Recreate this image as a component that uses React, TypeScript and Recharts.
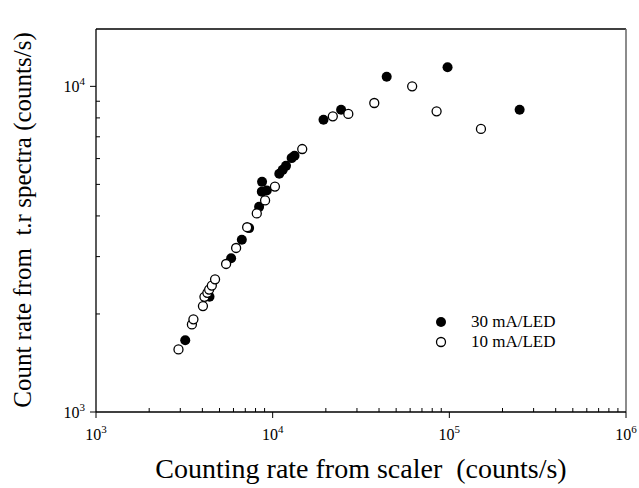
import { ReferenceLine, Scatter, ScatterChart, XAxis, YAxis } from 'recharts';

// 30 mA/LED (filled)
const scaler30 = [3200, 4390, 5820, 6690, 7360, 8380, 8710, 8680, 9260, 10900, 11400, 11900, 12800, 13300, 19400, 24400, 44200, 97700, 250000];
const spectra30 = [1660, 2260, 2965, 3380, 3670, 4265, 5090, 4750, 4790, 5390, 5540, 5700, 6020, 6120, 7900, 8480, 10700, 11440, 8480];

// 10 mA/LED (open)
const scaler10 = [2930, 3490, 3560, 4030, 4110, 4270, 4370, 4525, 4720, 5450, 6210, 7170, 8130, 9060, 10300, 14700, 21900, 26800, 37600, 61600, 84700, 151000];
const spectra10 = [1556, 1858, 1925, 2115, 2258, 2323, 2377, 2445, 2555, 2848, 3189, 3693, 4072, 4465, 4923, 6420, 8090, 8230, 8890, 10000, 8380, 7400];

const xTicks = [1e3, 2e3, 3e3, 4e3, 5e3, 6e3, 7e3, 8e3, 9e3, 1e4, 2e4, 3e4, 4e4, 5e4, 6e4, 7e4, 8e4, 9e4, 1e5, 2e5, 3e5, 4e5, 5e5, 6e5, 7e5, 8e5, 9e5, 1e6];
const yTicks = [1e3, 2e3, 3e3, 4e3, 5e3, 6e3, 7e3, 8e3, 9e3, 1e4];

const font = '"Liberation Serif", "Times New Roman", serif';

const data30 = scaler30.map((x, i) => ({ x, y: spectra30[i] }));
const data10 = scaler10.map((x, i) => ({ x, y: spectra10[i] }));

function exponentOf(v: number) {
  const e = Math.round(Math.log10(v));
  return Math.abs(Math.log10(v) - e) < 1e-6 ? e : null;
}

const XTick = ({ x, y, payload }: any) => {
  const e = exponentOf(payload.value);
  if (e === null) return <line x1={x} x2={x} y1={y} y2={y - 4} stroke="#000" />;
  return (
    <g>
      <line x1={x} x2={x} y1={y} y2={y + 6} stroke="#000" />
      <text x={x} y={y + 28} textAnchor="middle" fontSize={16} fontFamily={font} fill="#000">
        10<tspan dy={-7} fontSize={11}>{e}</tspan>
      </text>
    </g>
  );
};

const YTick = ({ x, y, payload }: any) => {
  const e = exponentOf(payload.value);
  if (e === null) return <line x1={x} x2={x + 4} y1={y} y2={y} stroke="#000" />;
  return (
    <g>
      <line x1={x - 6} x2={x} y1={y} y2={y} stroke="#000" />
      <text x={x - 11} y={y + 6} textAnchor="end" fontSize={16} fontFamily={font} fill="#000">
        10<tspan dy={-7} fontSize={11}>{e}</tspan>
      </text>
    </g>
  );
};

const FilledDot = ({ cx, cy }: any) => <circle cx={cx} cy={cy} r={5} fill="#000" />;
const OpenDot = ({ cx, cy }: any) => <circle cx={cx} cy={cy} r={4.5} fill="#fff" stroke="#000" strokeWidth={1.3} />;

const legendItems = [
  { label: '30 mA/LED', filled: true },
  { label: '10 mA/LED', filled: false },
];

const LegendBox = () => (
  <div style={{ position: 'absolute', left: 434, top: 312, fontFamily: font, fontSize: 17, color: '#000' }}>
    {legendItems.map((item) => (
      <div key={item.label} style={{ display: 'flex', alignItems: 'center', height: 20 }}>
        <svg width={14} height={14}>
          {item.filled ? (
            <circle cx={7} cy={7} r={5} fill="#000" />
          ) : (
            <circle cx={7} cy={7} r={4.5} fill="#fff" stroke="#000" strokeWidth={1.3} />
          )}
        </svg>
        <span style={{ marginLeft: 23 }}>{item.label}</span>
      </div>
    ))}
  </div>
);

export default function App() {
  return (
    <div style={{ position: 'absolute', left: 0, top: 0, width: 639, height: 488, background: '#fff' }}>
      <ScatterChart width={639} height={488} margin={{ top: 29, right: 13, left: 0, bottom: 0 }}>
        <XAxis
          type="number"
          dataKey="x"
          scale="log"
          domain={[1000, 1000000]}
          allowDataOverflow
          ticks={xTicks}
          interval={0}
          tick={<XTick />}
          tickLine={false}
          tickSize={0}
          tickMargin={0}
          height={76}
          axisLine={{ stroke: '#000', strokeWidth: 1.3 }}
          label={{
            content: () => (
              <text x={361} y={478} textAnchor="middle" fontSize={28} fontFamily={font} fill="#000">
                {'Counting rate from scaler \u00a0(counts/s)'}
              </text>
            ),
          }}
        />
        <YAxis
          type="number"
          dataKey="y"
          scale="log"
          domain={[1000, 15000]}
          allowDataOverflow
          ticks={yTicks}
          interval={0}
          tick={<YTick />}
          tickLine={false}
          tickSize={0}
          tickMargin={0}
          width={96}
          axisLine={{ stroke: '#000', strokeWidth: 1.3 }}
          label={{
            content: () => (
              <text x={31} y={220} transform="rotate(-90 31 220)" textAnchor="middle" fontSize={25} fontFamily={font} fill="#000">
                {'Count rate from \u00a0t.r spectra (counts/s)'}
              </text>
            ),
          }}
        />
        <ReferenceLine y={15000} stroke="#000" strokeWidth={1.3} />
        <ReferenceLine x={1000000} stroke="#666" strokeWidth={1.5} />
        <Scatter data={data30} shape={<FilledDot />} isAnimationActive={false} />
        <Scatter data={data10} shape={<OpenDot />} isAnimationActive={false} />
      </ScatterChart>
      <LegendBox />
    </div>
  );
}
